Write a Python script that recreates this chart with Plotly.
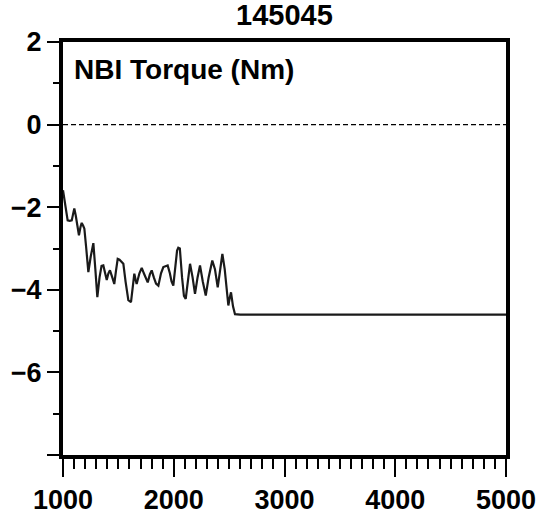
import plotly.graph_objects as go

# Time (ms) and NBI torque (Nm)
time_ms = [1000, 1015, 1030, 1042, 1060, 1079, 1090, 1102, 1115, 1130, 1144, 1158, 1169, 1182, 1193,
           1210, 1229, 1250, 1274, 1292, 1310, 1330, 1348, 1364, 1380, 1395, 1410, 1424, 1445, 1463,
           1478, 1494, 1510, 1530, 1545, 1565, 1590, 1614, 1630, 1644, 1655, 1665, 1690, 1711, 1730,
           1750, 1765, 1785, 1801, 1820, 1840, 1861, 1885, 1906, 1925, 1945, 1965, 1980, 1996, 2015,
           2030, 2041, 2055, 2075, 2092, 2108, 2128, 2147, 2170, 2192, 2215, 2237, 2262, 2289, 2315,
           2348, 2372, 2397, 2420, 2439, 2460, 2478, 2493, 2505, 2517, 2535, 2553, 2600, 3000, 4000, 5000]
torque_nm = [-1.59, -1.85, -2.2, -2.32, -2.33, -2.32, -2.18, -2.03, -2.2, -2.5, -2.68, -2.48, -2.38, -2.45, -2.52,
             -3.0, -3.57, -3.2, -2.87, -3.5, -4.18, -3.7, -3.42, -3.41, -3.6, -3.76, -3.6, -3.53, -3.7, -3.86,
             -3.55, -3.25, -3.27, -3.33, -3.37, -3.8, -4.25, -4.30, -3.85, -3.61, -3.75, -3.86, -3.6, -3.47, -3.6,
             -3.75, -3.82, -3.62, -3.53, -3.7, -3.85, -3.90, -3.6, -3.45, -3.43, -3.41, -3.6, -3.8, -3.90, -3.5,
             -3.05, -2.98, -3.0, -3.7, -4.15, -4.22, -3.8, -3.37, -3.7, -4.10, -3.7, -3.41, -3.8, -4.14, -3.7,
             -3.29, -3.5, -3.94, -3.5, -3.13, -3.5, -4.02, -4.38, -4.2, -4.06, -4.4, -4.59, -4.6, -4.6, -4.6, -4.6]

x_major = [1000, 2000, 3000, 4000, 5000]
y_major = [2, 0, -2, -4, -6, -8]
y_labels = ["2", "0", "\u22122", "\u22124", "\u22126", ""]

FONT = "Liberation Sans, Arial, sans-serif"

fig = go.Figure()
fig.add_trace(go.Scatter(x=[1000, 5000], y=[0, 0], mode="lines",
                         line=dict(color="black", width=1.4, dash="5px,3px"),
                         hoverinfo="skip", showlegend=False))
fig.add_trace(go.Scatter(x=time_ms, y=torque_nm, mode="lines",
                         line=dict(color="#1a1a1a", width=2.2), showlegend=False))

fig.update_layout(
    width=540, height=517,
    margin=dict(l=63, r=34, t=42, b=62, autoexpand=False),
    paper_bgcolor="white", plot_bgcolor="white",
    font=dict(family=FONT, color="black"),
    title=dict(text="<b>145045</b>", xref="paper", x=0.5, xanchor="center", y=0.99, yanchor="top",
               font=dict(size=29, family=FONT, color="black")),
    showlegend=False,
)
fig.update_xaxes(range=[1000, 5000], tickvals=x_major, ticks="outside", ticklen=18, tickwidth=2,
                 tickcolor="black", showline=True, linewidth=4, linecolor="black", mirror=True,
                 showgrid=False, zeroline=False, automargin=False,
                 tickfont=dict(size=27, family=FONT, weight="bold"),
                 minor=dict(dtick=100, ticks="outside", ticklen=10, tickwidth=1.5, tickcolor="black",
                            showgrid=False))
fig.update_yaxes(range=[-8, 2], tickvals=y_major, ticktext=y_labels, ticks="outside", ticklen=12,
                 tickwidth=2, tickcolor="black", showline=True, linewidth=4, linecolor="black",
                 mirror=True, showgrid=False, zeroline=False, automargin=False,
                 tickfont=dict(size=27, family=FONT, weight="bold"),
                 minor=dict(tickvals=[1, -1, -3, -5, -7], ticks="outside", ticklen=6, tickwidth=1.5,
                            tickcolor="black", showgrid=False))
fig.add_annotation(text="<b>NBI Torque (Nm)</b>", xref="paper", yref="paper", x=0.02, y=0.975,
                   xanchor="left", yanchor="top", showarrow=False,
                   font=dict(size=28, family=FONT, color="black"))

fig.write_html("out.html")
